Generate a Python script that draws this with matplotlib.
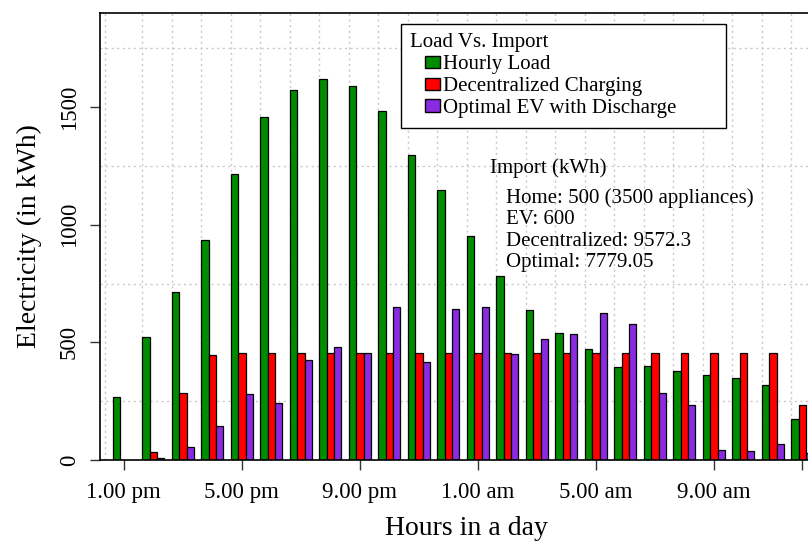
'''
    Hourly load vs import chart
'''
import matplotlib.pyplot as plt
from matplotlib.patches import Rectangle
from matplotlib.legend_handler import HandlerPatch
from matplotlib.ticker import FixedLocator

plt.rcParams['font.family'] = ['Liberation Serif', 'DejaVu Serif']

hours = [13, 14, 15, 16, 17, 18, 19, 20, 21, 22, 23, 0,
         1, 2, 3, 4, 5, 6, 7, 8, 9, 10, 11, 12]
hourly_load = [269, 524, 715, 937, 1216, 1456, 1573, 1621, 1589, 1485, 1297, 1146,
               951, 782, 637, 541, 471, 396, 401, 380, 361, 347, 319, 176]
decentralized = [0, 33, 283, 446, 456, 453, 453, 453, 453, 453, 453, 453,
                 453, 453, 453, 453, 453, 453, 453, 453, 453, 453, 453, 232]
optimal = [0, 8, 57, 146, 279, 244, 423, 481, 453, 650, 415, 640,
           650, 449, 513, 534, 624, 578, 283, 232, 42, 38, 67, 31]
series_names = ['Hourly Load', 'Decentralized Charging', 'Optimal EV with Discharge']
series_colors = ['#008B00', '#FF0000', '#8A2BE2']
import_lines = ['Home: 500 (3500 appliances)', 'EV: 600',
                'Decentralized: 9572.3', 'Optimal: 7779.05']


def hour_label(h):
    '''12 hour label like 1.00 pm'''
    h12 = h % 12 or 12
    return f"{h12}.00 {'am' if h < 12 else 'pm'}"


class RightPatch(HandlerPatch):
    '''legend key drawn in the right part of the handle box'''
    def create_artists(self, legend, orig_handle, xdescent, ydescent,
                       width, height, fontsize, trans):
        w = 0.5 * width
        p = Rectangle((width - w - xdescent, -ydescent), w, height,
                      facecolor=orig_handle.get_facecolor(),
                      edgecolor='black', linewidth=1.0, transform=trans)
        return [p]


fig = plt.figure(figsize=(8.08, 5.41), dpi=100)
W, H = 808, 541
ax = fig.add_axes([100 / W, 81 / H, 732 / W, 447 / H])

n = len(hours)
centers = [4 * i for i in range(n)]
data = [hourly_load, decentralized, optimal]
handles = []
for k, (vals, name, col) in enumerate(zip(data, series_names, series_colors)):
    b = ax.bar([c + k - 1 for c in centers], vals, width=1.0, color=col,
               edgecolor='black', linewidth=0.9, label=name, zorder=2)
    handles.append(b.patches[0])

ax.set_xlim(-3.23, -3.23 + 732 / 7.375)
ax.set_ylim(0, 1900)

tick_idx = [0, 4, 8, 12, 16, 20, 23]
ax.set_xticks([centers[i] for i in tick_idx])
ax.set_xticklabels([hour_label(hours[i]) if i != 23 else '' for i in tick_idx])
ax.set_yticks([0, 500, 1000, 1500])
ax.set_yticklabels(['0', '500', '1000', '1500'], rotation=90, va='center')

ax.xaxis.set_minor_locator(FixedLocator([c + 2.5 for c in [-5] + centers]))
ax.yaxis.set_minor_locator(FixedLocator(range(0, 1900, 250)))
ax.grid(which='minor', color='#C8C8C8', linestyle=(0, (1.5, 2.5)), linewidth=1.0, zorder=0)
ax.set_axisbelow(True)

ax.tick_params(which='minor', length=0)
ax.tick_params(which='major', length=7.5, width=1.0, labelsize=16.5, pad=8, color='#333333')
ax.tick_params(axis='y', pad=7)
for s in ax.spines.values():
    s.set_linewidth(1.2)
ax.spines['right'].set_visible(False)

ax.set_xlabel('Hours in a day', fontsize=20, labelpad=10)
ax.set_ylabel('Electricity (in kWh)', fontsize=20, labelpad=12)

leg = ax.legend(handles, series_names, title='Load Vs. Import',
                loc='upper left', bbox_to_anchor=(400.7 / W, 1 - 135 / H, 325.3 / W, 111 / H),
                bbox_transform=fig.transFigure, mode='expand',
                fontsize=15, title_fontsize=15, alignment='left',
                handler_map={Rectangle: RightPatch()},
                handlelength=1.45, handleheight=0.55, handletextpad=0.15,
                labelspacing=0.14, borderpad=0.45, borderaxespad=0,
                fancybox=False, framealpha=1, edgecolor='black')
leg.get_frame().set_linewidth(1.0)

fig.text(490 / W, 1 - 168 / H, 'Import (kWh)', fontsize=15, va='center')
for j, line in enumerate(import_lines):
    fig.text(506 / W, 1 - (198 + 21.6 * j) / H, line, fontsize=15, va='center')

fig.savefig('out.png', dpi=100)
